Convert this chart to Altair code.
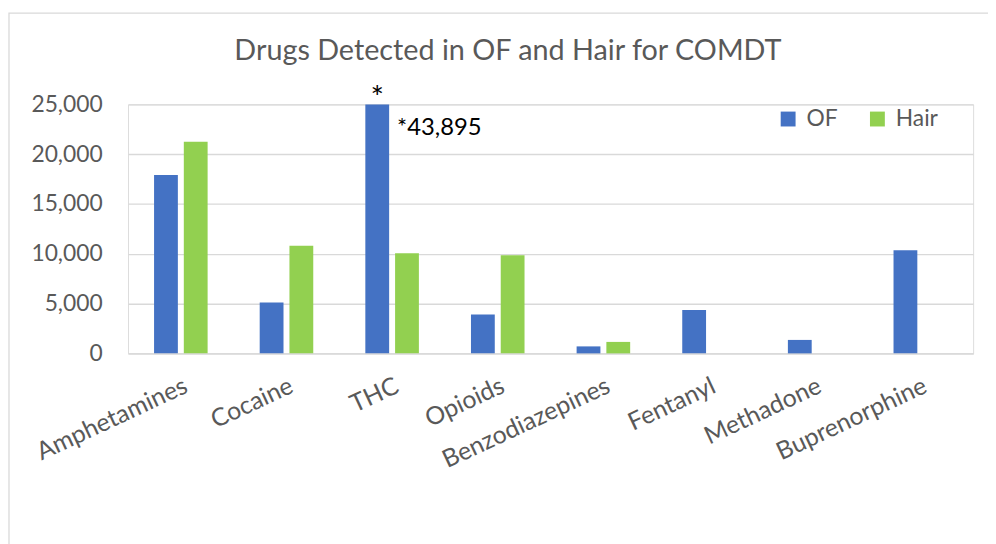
import altair as alt
import pandas as pd

categories = ["Amphetamines", "Cocaine", "THC", "Opioids", "Benzodiazepines",
              "Fentanyl", "Methadone", "Buprenorphine"]
series_names = ["OF", "Hair"]
# OF values (THC capped at the axis maximum; true value given in the annotation)
of_values = [17900, 5100, 25000, 3900, 700, 4350, 1350, 10350]
hair_values = [21250, 10800, 10050, 9850, 1150, None, None, None]

note_drug = ["THC"]
note_series = ["OF"]
note_value = [25000]
note_star = ["*"]
note_true = ["*43,895"]

rows = []
for c, o, h in zip(categories, of_values, hair_values):
    rows.append({"drug": c, "series": "OF", "value": o})
    if h is not None:
        rows.append({"drug": c, "series": "Hair", "value": h})
df = pd.DataFrame(rows)

notes = pd.DataFrame({"drug": note_drug, "series": note_series, "value": note_value,
                      "star": note_star, "truev": note_true})

FONT = "Lato"
GRAY = "#595959"

x_enc = alt.X("drug:N", sort=categories,
              scale=alt.Scale(domain=categories, paddingInner=0.493, paddingOuter=0.2465),
              axis=alt.Axis(title=None, labelAngle=-25, labelAlign="right", labelBaseline="top",
                            labelPadding=20, labelFontSize=25, labelColor=GRAY, labelFont=FONT,
                            ticks=False, domainColor="#d9d9d9", domainWidth=1.3, grid=False,
                            labelOverlap=False, labelLimit=0))
xo_enc = alt.XOffset("series:N", sort=series_names,
                     scale=alt.Scale(domain=series_names, paddingInner=0.2, paddingOuter=0))
y_enc = alt.Y("value:Q",
              scale=alt.Scale(domain=[0, 25000], nice=False),
              axis=alt.Axis(title=None, values=[0, 5000, 10000, 15000, 20000, 25000], format=",.0f",
                            labelFontSize=23, labelColor=GRAY, labelFont=FONT, labelPadding=26,
                            ticks=False, domain=False, gridColor="#d9d9d9", gridWidth=1.3))

bars = alt.Chart(df).mark_bar().encode(
    x=x_enc, xOffset=xo_enc, y=y_enc,
    color=alt.Color("series:N", sort=series_names,
                    scale=alt.Scale(domain=series_names, range=["#4472C4", "#92D050"]),
                    legend=alt.Legend(title=None, orient="none", legendX=654, legendY=3,
                                      direction="horizontal", symbolType="square",
                                      symbolSize=225, symbolStrokeWidth=0, symbolOpacity=1,
                                      labelFontSize=23, labelColor=GRAY, labelFont=FONT,
                                      columnPadding=28, labelOffset=7))
)

star = alt.Chart(notes).mark_text(font=FONT, fontSize=32, color="black",
                                  baseline="alphabetic", align="center", dy=4).encode(
    x=alt.X("drug:N", sort=categories), xOffset=alt.XOffset("series:N", sort=series_names),
    y=alt.Y("value:Q"), text="star:N")

truev = alt.Chart(notes).mark_text(font=FONT, fontSize=24, color="black",
                                   baseline="middle", align="left", dx=20, dy=24).encode(
    x=alt.X("drug:N", sort=categories), xOffset=alt.XOffset("series:N", sort=series_names),
    y=alt.Y("value:Q"), text="truev:N")

frame = alt.Chart(pd.DataFrame({"k": [0]})).mark_rect(fill=None, stroke="#d9d9d9",
                                                       strokeWidth=1.3).encode(
    x=alt.value(-120), x2=alt.value(900), y=alt.value(-92), y2=alt.value(460))

chart = alt.layer(frame, bars, star, truev).properties(
    width=852, height=251,
    padding={"left": 121, "top": 95, "right": 15, "bottom": 190},
    autosize=alt.AutoSizeParams(type="none"),
    title=alt.TitleParams("Drugs Detected in OF and Hair for COMDT", fontSize=29, font=FONT,
                          fontWeight="normal", color=GRAY, anchor="middle", frame="group",
                          dx=-43, baseline="bottom", offset=-83),
).configure_view(stroke=None).configure(background="white")

chart.save("out.html", embed_options={"renderer": "svg", "actions": False})
